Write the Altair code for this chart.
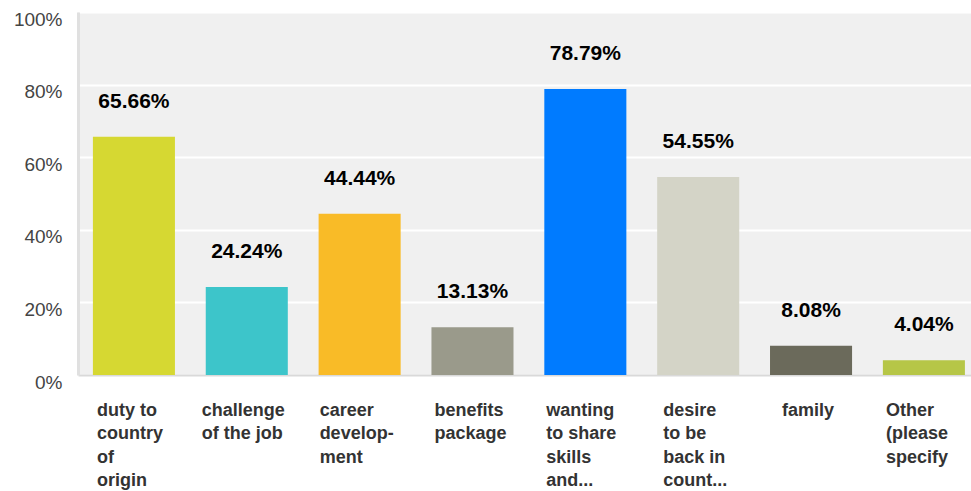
import altair as alt
import pandas as pd

categories = ["duty to country of origin", "challenge of the job", "career development",
              "benefits package", "wanting to share skills and...", "desire to be back in count...",
              "family", "Other (please specify"]
label_lines = ["duty to|country|of|origin", "challenge|of the job", "career|develop-|ment",
               "benefits|package", "wanting|to share|skills|and...", "desire|to be|back in|count...",
               "family", "Other|(please|specify"]
values = [65.66, 24.24, 44.44, 13.13, 78.79, 54.55, 8.08, 4.04]
colors = ["#d6d832", "#3dc5ca", "#f9bb27", "#9a9a8b", "#007bff", "#d4d4c7", "#6b6a5b", "#b6c647"]
value_text = ["65.66%", "24.24%", "44.44%", "13.13%", "78.79%", "54.55%", "8.08%", "4.04%"]

# style: horizontal shift of each wrapped label block (block centred under its bar, lines left-aligned)
label_shift = [-37, -45, -40, -38, -39, -35, -29, -38]

df = pd.DataFrame({"cat": label_lines, "val": values, "txt": value_text, "color": colors})

offset_cond = {
    "condition": [{"test": f"datum.value === '{c}'", "value": s}
                  for c, s in zip(label_lines, label_shift)],
    "value": -38,
}

x = alt.X("cat:N", sort=label_lines, title=None,
          scale=alt.Scale(paddingInner=0.273, paddingOuter=0.093, align=0.71),
          axis=alt.Axis(labelExpr="split(datum.label, '|')", labelAngle=0, labelAlign="left",
                        labelBaseline="top", labelOffset=offset_cond, labelPadding=26,
                        labelFont="Liberation Sans", labelFontSize=18, labelFontWeight="bold",
                        labelColor="#333333", labelLineHeight=23.5, labelLimit=200,
                        ticks=False, domainColor="#d9d9d9", domainWidth=2, grid=False))
y = alt.Y("val:Q", title=None,
          scale=alt.Scale(domain=[0, 100], nice=False),
          axis=alt.Axis(values=list(range(0, 101, 10)),
                        labelExpr="datum.value % 20 == 0 ? datum.value + '%' : ''",
                        labelFont="Liberation Sans", labelFontSize=19, labelColor="#444444",
                        labelPadding=16, labelOffset=7, ticks=False,
                        domainColor="#e0e0e0", domainWidth=3,
                        gridColor="#ffffff", gridWidth=2))

bars = alt.Chart(df).mark_bar().encode(x=x, y=y, color=alt.Color("color:N", scale=None))
texts = alt.Chart(df).mark_text(dy=-35, font="Liberation Sans", fontSize=21, fontWeight="bold",
                                color="#000000", baseline="middle").encode(
    x=alt.X("cat:N", sort=label_lines), y="val:Q", text="txt:N")

chart = (bars + texts).properties(
    width=893, height=363,
    autosize=alt.AutoSizeParams(type="none"),
    padding={"left": 78, "top": 12, "right": 0, "bottom": 116},
    background="#ffffff",
).configure_view(fill="#f0f0f0", stroke=None)

chart.save("out.html", embed_options={"renderer": "svg", "actions": False})
